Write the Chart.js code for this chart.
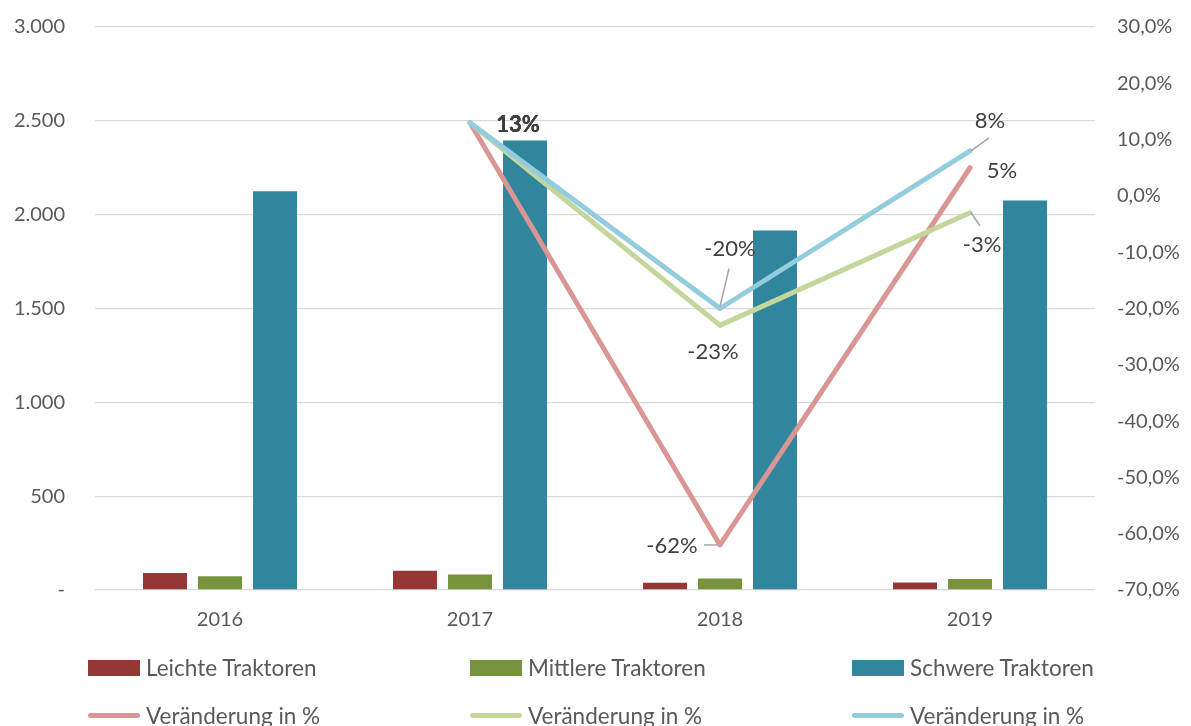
<!DOCTYPE html>
<html>
<head>
<meta charset="utf-8">
<script src="https://cdn.jsdelivr.net/npm/chart.js@4.4.1/dist/chart.umd.min.js"></script>
<style>
  html, body { margin: 0; padding: 0; background: #fff; overflow: hidden; }
  #wrap { position: relative; width: 1191px; height: 726px; }
  #legend { position: absolute; left: 0; top: 0; width: 1191px; height: 726px; pointer-events: none;
            font-family: Lato, sans-serif; font-size: 22.5px; color: #595959; }
  .item { position: absolute; display: flex; align-items: center; white-space: nowrap; }
  .box { width: 52px; height: 16px; margin-right: 6px; }
  .ln { width: 52px; height: 5px; border-radius: 3px; margin-right: 6px; }
</style>
</head>
<body>
<div id="wrap">
  <canvas id="traktoren" width="1191" height="726"></canvas>
  <div id="legend"></div>
</div>
<script>
// Jahre und Stückzahlen
var jahre = ['2016', '2017', '2018', '2019'];
var leichte = [91, 103, 38, 40];
var mittlere = [73, 83, 61, 58];
var schwere = [2125, 2395, 1915, 2075];

// Veränderung zum Vorjahr in %
var verLeichte = [null, 13, -62, 5];
var verMittlere = [null, 13, -23, -3];
var verSchwere = [null, 13, -20, 8];

var linksTicks = [0, 500, 1000, 1500, 2000, 2500, 3000];

var schrift = 'Lato, sans-serif';
var grau = '#595959';

// Position der Beschriftungen relativ zum Punkt (dx, dy) und optionale Führungslinie
var beschriftung = {
  3: { 1: { dx: 48, dy: 2, fett: true }, 2: { dx: -48, dy: 1, leader: [-16, 0, -2, 0] }, 3: { dx: 32, dy: 3 } },
  4: { 1: { dx: 48, dy: 2, fett: true }, 2: { dx: -7, dy: 27 }, 3: { dx: 12, dy: 32, leader: [1, 0, 10, 13] } },
  5: { 1: { dx: 48, dy: 2, fett: true }, 2: { dx: 10, dy: -60, leader: [0, -2, 9, -40] }, 3: { dx: 20, dy: -30, leader: [1, 0, 19, -13] } }
};

var labelPlugin = {
  id: 'prozentLabels',
  afterDatasetsDraw: function(chart) {
    var ctx = chart.ctx;
    ctx.save();
    ctx.textAlign = 'center';
    ctx.textBaseline = 'middle';
    Object.keys(beschriftung).forEach(function(di) {
      var meta = chart.getDatasetMeta(+di);
      var ds = chart.data.datasets[+di];
      Object.keys(beschriftung[di]).forEach(function(pi) {
        var cfg = beschriftung[di][pi];
        var pt = meta.data[+pi];
        var v = ds.data[+pi];
        if (cfg.leader) {
          ctx.strokeStyle = '#A6A6A6';
          ctx.lineWidth = 1.5;
          ctx.beginPath();
          ctx.moveTo(pt.x + cfg.leader[0], pt.y + cfg.leader[1]);
          ctx.lineTo(pt.x + cfg.leader[2], pt.y + cfg.leader[3]);
          ctx.stroke();
        }
        ctx.font = (cfg.fett ? 'bold ' : '') + '22px ' + schrift;
        ctx.fillStyle = '#404040';
        ctx.fillText(v + '%', pt.x + cfg.dx, pt.y + cfg.dy);
      });
    });
    ctx.restore();
  }
};

function linie(daten, farbe, ord) {
  return {
    type: 'line',
    label: 'Veränderung in %',
    data: daten,
    yAxisID: 'y1',
    borderColor: farbe,
    backgroundColor: farbe,
    borderWidth: 5,
    borderCapStyle: 'round',
    borderJoinStyle: 'round',
    pointRadius: 0,
    fill: false,
    tension: 0,
    order: ord
  };
}

function balken(label, daten, farbe) {
  return {
    type: 'bar',
    label: label,
    data: daten,
    backgroundColor: farbe,
    yAxisID: 'y',
    categoryPercentage: 0.66,
    barPercentage: 0.8,
    order: 1
  };
}

// feste Breite der Achse, ohne zusätzlichen Rand oben/unten
function festeBreite(w) {
  return function(s) {
    s.width = w;
    s.paddingTop = 0;
    s.paddingBottom = 0;
  };
}

var ctx = document.getElementById('traktoren').getContext('2d');

var chart = new Chart(ctx, {
  data: {
    labels: jahre,
    datasets: [
      balken('Leichte Traktoren', leichte, '#953735'),
      balken('Mittlere Traktoren', mittlere, '#77933C'),
      balken('Schwere Traktoren', schwere, '#31859C'),
      linie(verLeichte, '#D99694', -1),
      linie(verMittlere, '#C3D69B', -2),
      linie(verSchwere, '#93CDDD', -3)
    ]
  },
  options: {
    responsive: false,
    animation: false,
    layout: { padding: { top: 27, left: 0, right: 0, bottom: 0 } },
    plugins: {
      legend: { display: false },
      tooltip: { enabled: false }
    },
    scales: {
      x: {
        grid: { display: false, drawTicks: false },
        border: { display: false },
        ticks: { font: { family: schrift, size: 20 }, color: grau, padding: 18 },
        afterFit: function(s) { s.height = 136; }
      },
      y: {
        position: 'left',
        min: 0,
        max: 3000,
        afterBuildTicks: function(s) { s.ticks = linksTicks.map(function(v) { return { value: v }; }); },
        grid: { color: '#D9D9D9', lineWidth: 1.3, drawTicks: false },
        border: { display: false },
        ticks: {
          font: { family: schrift, size: 20 },
          color: grau,
          padding: 30,
          callback: function(v) { return v === 0 ? '-' : v.toLocaleString('de-DE'); }
        },
        afterFit: festeBreite(95)
      },
      y1: {
        position: 'right',
        min: -70,
        max: 30,
        grid: { display: false, drawTicks: false },
        border: { display: false },
        ticks: {
          stepSize: 10,
          font: { family: schrift, size: 20 },
          color: grau,
          padding: 22,
          callback: function(v) { return v.toFixed(1).replace('.', ',') + '%'; }
        },
        afterFit: festeBreite(96)
      }
    }
  },
  plugins: [labelPlugin]
});

// Legende: drei Spalten, zwei Zeilen
var legende = document.getElementById('legend');
chart.data.datasets.forEach(function(ds, i) {
  var spalte = i % 3;
  var zeile = Math.floor(i / 3);
  var el = document.createElement('div');
  el.className = 'item';
  el.style.left = (88 + spalte * 382) + 'px';
  el.style.top = (zeile === 0 ? 654 : 702) + 'px';
  var sw = document.createElement('div');
  sw.className = ds.type === 'bar' ? 'box' : 'ln';
  sw.style.background = ds.type === 'bar' ? ds.backgroundColor : ds.borderColor;
  var tx = document.createElement('span');
  tx.textContent = ds.label;
  el.appendChild(sw);
  el.appendChild(tx);
  legende.appendChild(el);
});
</script>
</body>
</html>
